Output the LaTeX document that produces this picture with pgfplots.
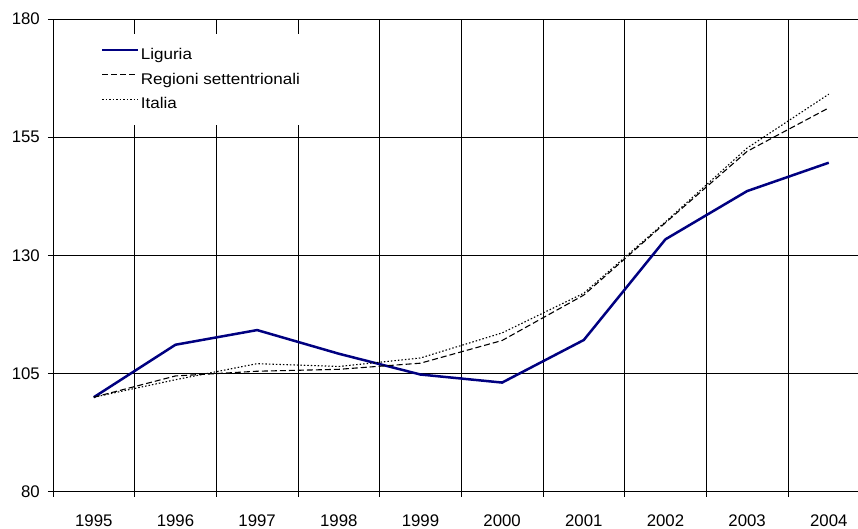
\documentclass[border=0pt]{standalone}
\usepackage{fontspec}
\setmainfont{Liberation Sans}
\newfontfamily\legfont{Liberation Sans}[FakeStretch=1.1]
\usepackage{pgfplots}
\pgfplotsset{compat=1.18}
\definecolor{navy}{RGB}{0,0,128}
\begin{document}
\begin{tikzpicture}
\begin{axis}[
  name=ax,
  scale only axis, width=805bp, height=473bp,
  xmin=-0.5, xmax=9.353, ymin=80, ymax=180,
  axis x line*=bottom, axis y line*=left,
  axis line style={-, black, line width=0.8bp},
  xtick={-0.5,0.5,1.5,2.5,3.5,4.5,5.5,6.5,7.5,8.5},
  xticklabels={1995,1996,1997,1998,1999,2000,2001,2002,2003,2004},
  ytick={80,105,130,155,180},
  xmajorgrids=true, ymajorgrids=true,
  grid style={black, line width=0.8bp},
  tick align=outside,
  major tick length=5bp,
  tick style={black, line width=0.8bp},
  tick label style={font=\fontsize{16.8bp}{20bp}\selectfont, inner sep=0pt},
  /pgf/number format/assume math mode=true,
  yticklabel style={xshift=-8bp},
  xticklabel style={xshift=40.85bp, yshift=-18bp},
  legend style={at={(0,1)}, anchor=north west, xshift=42.7bp, yshift=-15.3bp,
    draw=none, fill=white, inner xsep=5bp, inner ysep=11bp,
    row sep=5.2bp, column sep=0bp,
    font=\legfont\fontsize{15.5bp}{18bp}\selectfont,
    cells={anchor=base west},
    nodes={inner sep=2bp, text height=12bp, text depth=3.5bp}},
  legend image code/.code={\draw[#1] (0bp,9.5bp) -- (35.5bp,9.5bp);},
]
\addplot[navy, line width=2.5bp] coordinates {
  (0,100) (1,111.1) (2,114.2) (3,109.2) (4,104.8) (5,103.1) (6,112.1) (7,133.4) (8,143.6) (9,149.6)};
\addlegendentry{Liguria}
\addplot[black, line width=1.1bp, dash pattern=on 6bp off 3bp] coordinates {
  (0,100) (1,104.5) (2,105.5) (3,105.9) (4,107.2) (5,112.0) (6,121.6) (7,136.9) (8,152.0) (9,161.2)};
\addlegendentry{Regioni settentrionali}
\addplot[black, line width=1.1bp, dash pattern=on 1.5bp off 2bp] coordinates {
  (0,100) (1,103.7) (2,107.1) (3,106.5) (4,108.3) (5,113.6) (6,122.0) (7,137.1) (8,152.7) (9,164.1)};
\addlegendentry{Italia}
\end{axis}
\path ([xshift=-53bp,yshift=19bp]ax.north west) ([yshift=-37bp]ax.south east);
\end{tikzpicture}
\end{document}
